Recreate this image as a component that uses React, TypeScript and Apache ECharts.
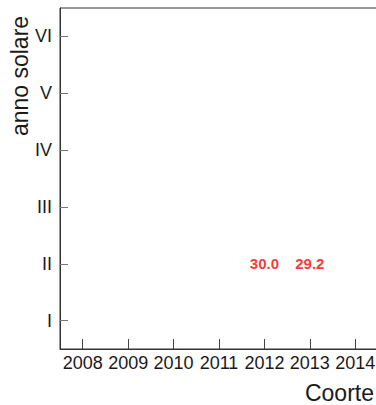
import React, { useEffect, useRef } from "react";
import * as echarts from "echarts";

const years = ["2008", "2009", "2010", "2011", "2012", "2013", "2014"];
const periods = ["I", "II", "III", "IV", "V", "VI"];
const cellYears = ["2012", "2013"];
const cellPeriods = ["II", "II"];
const cellValues = [30.0, 29.2];

const FONT = "'Liberation Sans', Arial, Helvetica, sans-serif";

export default function App() {
  const ref = useRef<HTMLDivElement>(null);
  useEffect(() => {
    if (!ref.current) return;
    const chart = echarts.init(ref.current, undefined, { renderer: "svg" });
    const data = cellValues.map((v, i) => [
      years.indexOf(cellYears[i]),
      periods.indexOf(cellPeriods[i]),
      v,
    ]);
    chart.setOption({
      animation: false,
      backgroundColor: "#ffffff",
      textStyle: { fontFamily: FONT },
      grid: {
        left: 60,
        top: 8,
        right: 2,
        bottom: 56,
        show: true,
        borderColor: "#333333",
        borderWidth: 1,
        backgroundColor: "transparent",
      },
      xAxis: {
        type: "category",
        data: years,
        boundaryGap: true,
        axisLine: { show: true, lineStyle: { color: "#333333", width: 1 } },
        axisTick: {
          show: true,
          inside: true,
          length: 10,
          interval: 0,
          alignWithLabel: true,
          lineStyle: { color: "#444444", width: 1 },
        },
        axisLabel: {
          show: true,
          interval: 0,
          fontSize: 18,
          color: "#1a1a1a",
          margin: 5,
          fontFamily: FONT,
        },
        splitLine: { show: false },
      },
      yAxis: {
        type: "category",
        data: periods,
        boundaryGap: true,
        axisLine: { show: true, lineStyle: { color: "#333333", width: 1 } },
        axisTick: {
          show: true,
          inside: true,
          length: 8,
          interval: 0,
          alignWithLabel: true,
          lineStyle: { color: "#777777", width: 1 },
        },
        axisLabel: {
          show: true,
          interval: 0,
          fontSize: 18,
          color: "#1a1a1a",
          margin: 8,
          fontFamily: FONT,
        },
        splitLine: { show: false },
      },
      graphic: [
        {
          type: "text",
          x: 20,
          y: 76,
          rotation: Math.PI / 2,
          style: {
            text: "anno solare",
            fontSize: 23,
            fontFamily: FONT,
            fill: "#1a1a1a",
            align: "center",
            verticalAlign: "middle",
          },
        },
        {
          type: "text",
          x: 374,
          y: 393,
          style: {
            text: "Coorte",
            fontSize: 23,
            fontFamily: FONT,
            fill: "#1a1a1a",
            align: "right",
            verticalAlign: "middle",
          },
        },
      ],
      series: [
        {
          type: "scatter",
          data,
          symbolSize: 2,
          itemStyle: { color: "rgba(0,0,0,0)" },
          label: {
            show: true,
            position: "inside",
            formatter: (p: any) => Number(p.value[2]).toFixed(1),
            color: "#ff0000",
            fontWeight: "bold",
            fontSize: 15,
            fontFamily: FONT,
          },
        },
      ],
    });
    return () => chart.dispose();
  }, []);
  return (
    <div
      style={{
        position: "fixed",
        left: 0,
        top: 0,
        width: 376,
        height: 405,
        overflow: "hidden",
        background: "#fff",
      }}
    >
      <div ref={ref} style={{ width: 380, height: 405 }} />
    </div>
  );
}
